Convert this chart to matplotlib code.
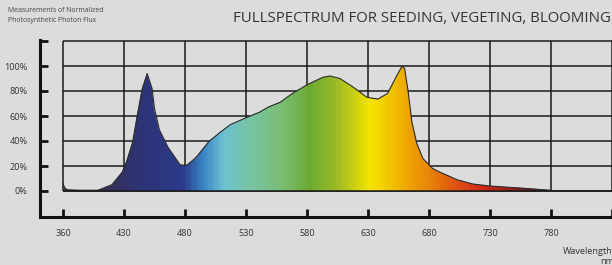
import numpy as np
import matplotlib
matplotlib.use("Agg")
import matplotlib.pyplot as plt
from matplotlib.colors import LinearSegmentedColormap
from matplotlib.patches import Polygon

# spectrum (wavelength nm -> relative flux %)
wavelength = [360, 362, 365, 380, 400, 416, 428, 432, 437, 441, 445, 449, 453, 455,
              459, 466, 476, 480, 482, 488, 490, 500, 509, 517, 531, 541, 548, 558,
              568, 580, 593, 599, 607, 618, 629, 638, 646, 654, 658, 660, 663, 666,
              670, 675, 683, 689, 695, 703, 716, 730, 757, 780]
flux = [6, 2.5, 1, 0.6, 0.6, 5, 15, 23, 39, 61, 82, 94, 82, 66,
        49, 35, 21, 20.5, 21, 26, 28, 40, 47, 53, 59, 63, 67, 71,
        78, 85, 91, 92, 90, 83, 75, 73.5, 78, 93, 100, 98, 79, 55,
        38, 26, 18, 15, 12.5, 9, 5.6, 4, 2.2, 0.5]

tick_wl = [360, 430, 480, 530, 580, 630, 680, 730, 780, 830]
tick_labels = ["360", "430", "480", "530", "580", "630", "680", "730", "780", ""]
y_ticks = [0, 20, 40, 60, 80, 100, 120]
y_labels = ["0%", "20%", "40%", "60%", "80%", "100%", ""]

# colour of the fill along the wavelength axis
grad_wl = [360, 420, 450, 478, 495, 512, 535, 560, 582, 605, 632, 648, 662, 680, 700, 725, 755, 780]
grad_col = ["#3a3050", "#33305e", "#2c3479", "#2b3a8a", "#3a86c6", "#6dc2d0", "#78c3a0",
            "#79bd72", "#6aaa32", "#9cbb26", "#f5e400", "#f2c600", "#eea600", "#e8860a",
            "#e05812", "#cf2818", "#861a18", "#2a2222"]

BG = "#dcdcdc"
INK = "#1a1a1a"

# evenly spaced ticks with uneven labels -> piecewise linear scale
bp_wl = np.array([290] + tick_wl + [880], dtype=float)
bp_pos = np.arange(-1, len(tick_wl) + 1, dtype=float)


def fwd(x):
    return np.interp(x, bp_wl, bp_pos)


def inv(p):
    return np.interp(p, bp_pos, bp_wl)


fig = plt.figure(figsize=(6.12, 2.65), dpi=100, facecolor=BG)
ax = fig.add_axes([40 / 612, 48 / 265, 572 / 612, 177 / 265])
ax.set_facecolor(BG)
ax.set_xscale("function", functions=(fwd, inv))
ax.set_xlim(inv(-0.377), 830)
ax.set_ylim(-20.8, 120.8)

# grid box
ax.hlines(y_ticks, 360, 830, color=INK, lw=1.1, zorder=1)
ax.vlines(tick_wl, 0, 120, color=INK, lw=1.1, zorder=1)

# gradient fill clipped to the spectrum outline
cmap = LinearSegmentedColormap.from_list(
    "spec", list(zip((np.array(grad_wl) - 360) / 420, grad_col)))
xe = np.linspace(360, 780, 421)
xc = (xe[:-1] + xe[1:]) / 2
mesh = ax.pcolormesh(xe, [0, 101], ((xc - 360) / 420)[None, :], cmap=cmap,
                     vmin=0, vmax=1, shading="flat", zorder=2)
verts = list(zip(wavelength, flux)) + [(780, 0), (360, 0)]
clip = Polygon(verts, closed=True, transform=ax.transData)
mesh.set_clip_path(clip)
ax.plot(wavelength, flux, color="#2a2a2a", lw=0.8, zorder=3)
ax.hlines(0, 360, 830, color=INK, lw=1.1, zorder=3)

for s in ("top", "right"):
    ax.spines[s].set_visible(False)
for s in ("left", "bottom"):
    ax.spines[s].set_linewidth(2.2)
    ax.spines[s].set_color("#111111")

ax.set_xticks(tick_wl)
ax.set_xticklabels(tick_labels)
ax.set_yticks(y_ticks)
ax.set_yticklabels(y_labels)
ax.tick_params(direction="in", length=6, width=2, color="#111111",
               labelsize=6.6, labelcolor="#333333")
ax.tick_params(axis="x", pad=9)
ax.tick_params(axis="y", pad=9)
ax.minorticks_off()
for lab in ax.get_xticklabels() + ax.get_yticklabels():
    lab.set_family("Open Sans")

fig.text(8 / 612, 1 - 11 / 265, "Measurements of Normalized", fontsize=4.95,
         color="#444444", family="Open Sans", va="center")
fig.text(8 / 612, 1 - 20 / 265, "Photosynthetic Photon Flux", fontsize=4.95,
         color="#444444", family="Open Sans", va="center")
fig.text(233 / 612, 1 - 19 / 265, "FULLSPECTRUM FOR SEEDING, VEGETING, BLOOMING",
         fontsize=10.85, color="#333333", family="Open Sans", va="center")
fig.text(563 / 612, 1 - 252 / 265, "Wavelength", fontsize=6.6, color="#333333",
         family="Open Sans", va="center")
fig.text(600 / 612, 1 - 262 / 265, "nm", fontsize=6.6, color="#333333",
         family="Open Sans", va="center")

fig.savefig("out.png", dpi=100, facecolor=BG)
